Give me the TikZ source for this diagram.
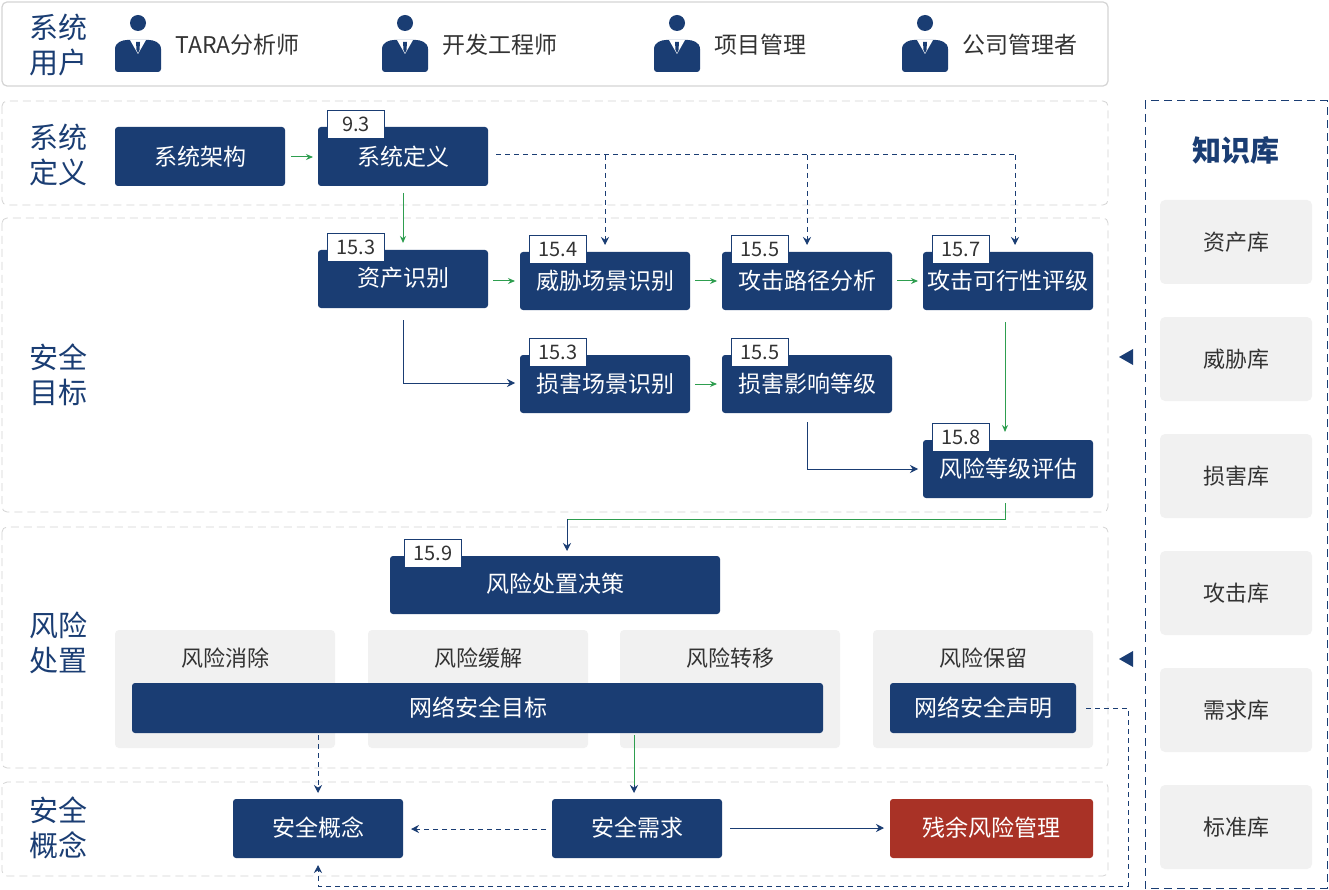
\documentclass[tikz,border=0pt]{standalone}
\usepackage{fontspec}
\setmainfont{Noto Sans CJK SC}
\usetikzlibrary{arrows.meta}
\definecolor{nb}{HTML}{1A3D73}
\definecolor{gr}{HTML}{2E9E4F}
\definecolor{lg}{HTML}{F1F1F1}
\definecolor{bd}{HTML}{D4D4D4}
\definecolor{rd}{HTML}{A93226}
\definecolor{tx}{HTML}{333333}
\begin{document}
\begin{tikzpicture}[x=1pt,y=-1pt,
 box/.style={fill=nb,rounded corners=3pt,draw=none},
 btxt/.style={text=white,font=\fontsize{23}{25}\selectfont},
 tag/.style={draw=nb,fill=white,line width=0.8pt,minimum width=57pt,minimum height=28pt,anchor=north west,inner sep=0pt,font=\fontsize{20}{22}\selectfont,text=tx},
 band/.style={draw=bd,dashed,dash pattern=on 8pt off 5pt,rounded corners=5pt,line width=0.8pt},
 side/.style={text=nb,font=\fontsize{29}{35}\selectfont,align=center},
 gbox/.style={fill=lg,rounded corners=4pt},
 ga/.style={draw=gr,line width=1pt,-{Stealth[length=7pt,width=6pt]}},
 ba/.style={draw=nb,line width=1pt,-{Stealth[length=8pt,width=8pt]}},
 da/.style={draw=nb,line width=1pt,dash pattern=on 5pt off 4pt,-{Stealth[length=8pt,width=8pt]}},
 dl/.style={draw=nb,line width=1pt,dash pattern=on 5pt off 4pt},
 gtxt/.style={text=tx,font=\fontsize{22}{24}\selectfont},
 utxt/.style={anchor=west,text=tx,font=\fontsize{23}{26}\selectfont}]
\useasboundingbox (0,0) rectangle (1329,890);
\fill[white] (0,0) rectangle (1329,890);
\draw[draw=bd,line width=1.2pt,rounded corners=5pt] (2,2) rectangle (1108,86);
\node[side] at (58,45) {系统\\用户};
\foreach \x/\t [count=\i] in {138/TARA分析师,405/开发工程师,677/项目管理,925/公司管理者}{
 \fill[nb] (\x,23) circle (8pt);
 \fill[nb,rounded corners=3pt] (\x-23,72) -- (\x-23,52) .. controls (\x-23,42) and (\x-15,40) .. (\x-8,40) -- (\x+8,40) .. controls (\x+15,40) and (\x+23,42) .. (\x+23,52) -- (\x+23,72) -- cycle;
 \fill[white] (\x-8,40) -- (\x,54) -- (\x+8,40) -- cycle;
 \fill[nb] (\x-2,42) -- (\x+2,42) -- (\x+1.5,50) -- (\x,53) -- (\x-1.5,50) -- cycle;
 \node[utxt] (u\i) at (\x+34,45) {\t};
}
\draw[band] (2,101) rectangle (1108,205);
\draw[band] (2,218) rectangle (1108,512);
\draw[band] (2,527) rectangle (1108,768);
\draw[band] (2,782) rectangle (1108,876);
\node[side] at (58,155) {系统\\定义};
\node[side] at (58,375) {安全\\目标};
\node[side] at (58,643) {风险\\处置};
\node[side] at (58,828) {安全\\概念};
\draw[nb,line width=1pt,dash pattern=on 8pt off 5pt] (1145,101) rectangle (1327,888);
\node[text=nb,font=\fontsize{29}{32}\selectfont\bfseries] at (1236,150) {知识库};
\foreach \t [count=\i] in {资产库,威胁库,损害库,攻击库,需求库,标准库}{
 \fill[lg,rounded corners=5pt] (1160,200+117*\i-117) rectangle (1312,284+117*\i-117);
 \node[gtxt] (k\i) at (1236,242+117*\i-117) {\t};
}
\fill[nb] (1119,357) -- (1133,349) -- (1133,365) -- cycle;
\fill[nb] (1119,659) -- (1133,651) -- (1133,667) -- cycle;
\fill[gbox] (115,630) rectangle (335,748);
\fill[gbox] (368,630) rectangle (588,748);
\fill[gbox] (620,630) rectangle (840,748);
\fill[gbox] (873,630) rectangle (1093,748);
\foreach \x/\t [count=\i] in {225/风险消除,478/风险缓解,730/风险转移,983/风险保留}
 \node[gtxt] (o\i) at (\x,658) {\t};
\fill[box] (115,127) rectangle (285,186); \node[btxt] (arch) at (200,157) {系统架构};
\fill[box] (318,127) rectangle (488,186); \node[btxt] (sdef) at (403,157) {系统定义}; \node[tag] (t1) at (327,110) {9.3};
\fill[box] (318,250) rectangle (488,308); \node[btxt] (asset) at (403,278) {资产识别}; \node[tag] (t2) at (327,233) {15.3};
\fill[box] (520,252) rectangle (690,310); \node[btxt] (threat) at (605,281) {威胁场景识别}; \node[tag] (t3) at (529,235) {15.4};
\fill[box] (722,252) rectangle (892,310); \node[btxt] (path) at (807,281) {攻击路径分析}; \node[tag] (t4) at (731,235) {15.5};
\fill[box] (923,252) rectangle (1093,310); \node[btxt] (feas) at (1008,281) {攻击可行性评级}; \node[tag] (t5) at (932,235) {15.7};
\fill[box] (520,355) rectangle (690,413); \node[btxt] (dmg) at (605,384) {损害场景识别}; \node[tag] (t6) at (529,338) {15.3};
\fill[box] (722,355) rectangle (892,413); \node[btxt] (imp) at (807,384) {损害影响等级}; \node[tag] (t7) at (731,338) {15.5};
\fill[box] (923,440) rectangle (1093,498); \node[btxt] (risk) at (1008,469) {风险等级评估}; \node[tag] (t8) at (932,423) {15.8};
\fill[box] (390,556) rectangle (720,614); \node[btxt] (dec) at (555,584) {风险处置决策}; \node[tag] (t9) at (404,539) {15.9};
\fill[box] (132,683) rectangle (823,733); \node[btxt] (goal) at (478,708) {网络安全目标};
\fill[box] (890,683) rectangle (1076,733); \node[btxt] (claim) at (983,708) {网络安全声明};
\fill[box] (233,799) rectangle (403,858); \node[btxt] (conc) at (318,828) {安全概念};
\fill[box] (552,799) rectangle (722,858); \node[btxt] (req) at (637,828) {安全需求};
\fill[rd,rounded corners=3pt] (890,799) rectangle (1093,858); \node[btxt] (resid) at (991,828) {残余风险管理};
\draw[ga] (291,157) -- (313,157);
\draw[ga] (403,193) -- (403,243);
\draw[ga] (493,281) -- (515,281);
\draw[ga] (695,281) -- (717,281);
\draw[ga] (897,281) -- (918,281);
\draw[ga] (695,384) -- (717,384);
\draw[ga] (1005,322) -- (1005,432);
\draw[ba] (403,320) -- (403,383) -- (515,383);
\draw[ba] (807,422) -- (807,469) -- (918,469);
\draw[draw=gr,line width=1pt] (1005,503) -- (1005,519) -- (567,519);
\draw[ba] (567,519) -- (567,551);
\draw[dl] (496,155) -- (1015,155);
\draw[da] (605,155) -- (605,245);
\draw[da] (807,155) -- (807,245);
\draw[da] (1015,155) -- (1015,245);
\draw[da] (318,735) -- (318,793);
\draw[draw=gr,line width=1pt] (634,735) -- (634,785);
\draw[ba] (634,785) -- (634,793);
\draw[da] (546,829) -- (411,829);
\draw[draw=nb,line width=1pt,-{Stealth[length=8pt,width=8pt]}] (730,828) -- (884,828);
\draw[da] (1086,708) -- (1128,708) -- (1128,886) -- (318,886) -- (318,865);
\end{tikzpicture}
\end{document}
